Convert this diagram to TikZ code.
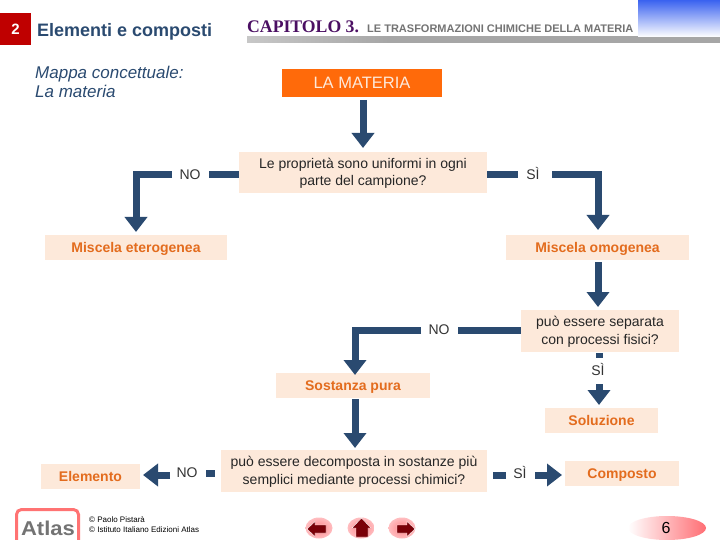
\documentclass[tikz,border=0pt]{standalone}
\usepackage{fontspec}
\setmainfont{Liberation Sans}
\newfontfamily\timesf{Liberation Serif}
\usetikzlibrary{arrows.meta,shadings,shapes.geometric}
\definecolor{navy}{HTML}{2A4A70}
\definecolor{peach}{HTML}{FDE9DA}
\definecolor{orangetxt}{HTML}{E36C1E}
\definecolor{matorange}{HTML}{FF6A0A}
\definecolor{maroon}{HTML}{7A0008}
\definecolor{pinkb}{HTML}{FF6E74}
\definecolor{capviolet}{HTML}{4B0F63}
\definecolor{barblue}{HTML}{3A62F0}
\definecolor{bargrey}{HTML}{A6A6A6}
\pgfdeclarehorizontalshading{barshade}{100bp}{color(0bp)=(white); color(40bp)=(bargrey); color(100bp)=(bargrey)}
\tikzset{
 x=1pt,y=-1pt,
 peachbox/.style={fill=peach,draw=none,inner sep=0pt,align=center,font=\fontsize{14}{17.5}\selectfont,text=black!85,text depth=1.6pt},
 term/.style={peachbox,font=\fontsize{14}{16}\bfseries\selectfont,text=orangetxt,text height=10pt,text depth=0pt},
 lab/.style={inner sep=0pt,font=\fontsize{14}{16}\selectfont,text=black!80,text height=9.5pt,text depth=0pt},
 link/.style={draw=navy,line width=7pt},
 flow/.style={link,-{Triangle[width=22pt,length=15pt]}},
 navbtn/.style={ellipse,minimum width=27pt,minimum height=21pt,inner sep=0pt,inner color=pinkb!85,outer color=pinkb!45},
 navshape/.style={fill=maroon,draw=white,line width=.4pt},
}
\begin{document}
\begin{tikzpicture}
\useasboundingbox (0,0) rectangle (720,540);
% header
\node[fill=red!75!black,text=white,minimum width=31pt,minimum height=32pt,inner sep=0pt,font=\fontsize{15}{15}\bfseries\selectfont] (num) at (15.5,29) {2};
\node[anchor=west,inner sep=0pt,text=navy,font=\fontsize{18}{18}\bfseries\selectfont,text height=12pt,text depth=0pt] (title) at (37,31) {Elementi e composti};
\shade[shading=barshade,draw=none] (247,37) rectangle (720,43);
\shade[top color=barblue,bottom color=white,draw=none] (638,0) rectangle (720,37);
\node[anchor=base west,inner sep=0pt,text=capviolet,font=\timesf\fontsize{17.7}{16}\bfseries\selectfont] (cap) at (247,33) {CAPITOLO 3.};
\node[anchor=base west,inner sep=0pt,text=black!55,font=\fontsize{11}{11}\bfseries\selectfont] (cap2) at (367,33) {LE TRASFORMAZIONI CHIMICHE DELLA MATERIA};
\node[anchor=north west,inner sep=0pt,align=left,text=navy,font=\fontsize{17}{19}\itshape\selectfont] (mappa) at (35,66) {Mappa concettuale:\\La materia};
% boxes
\node[fill=matorange,text=peach,inner sep=0pt,minimum width=160pt,minimum height=28pt,font=\fontsize{16.5}{16}\selectfont,text height=11pt,text depth=0pt] (mat) at (362,83) {LA MATERIA};
\node[peachbox,minimum width=248pt,minimum height=41pt] (q1) at (363,172.5) {Le proprietà sono uniformi in ogni\\parte del campione?};
\node[term,minimum width=182pt,minimum height=25pt] (het) at (136,247.5) {Miscela eterogenea};
\node[term,minimum width=183pt,minimum height=25pt] (omo) at (597.5,247.5) {Miscela omogenea};
\node[peachbox,minimum width=158pt,minimum height=42pt] (q2) at (600,331) {può essere separata\\con processi fisici?};
\node[term,minimum width=154pt,minimum height=25pt] (pura) at (353,385.5) {Sostanza pura};
\node[term,minimum width=113pt,minimum height=25pt] (sol) at (601.5,420.5) {Soluzione};
\node[peachbox,minimum width=266pt,minimum height=42pt] (q3) at (354,471) {può essere decomposta in sostanze più\\semplici mediante processi chimici?};
\node[term,minimum width=99pt,minimum height=25pt] (el) at (90.5,476.5) {Elemento};
\node[term,minimum width=114pt,minimum height=25pt] (comp) at (622,473.5) {Composto};
% labels
\node[lab] (no1) at (190,175) {NO};
\node[lab] (si1) at (533,175) {SÌ};
\node[lab] (no2) at (439,330) {NO};
\node[lab] (si2) at (598,371) {SÌ};
\node[lab] (no3) at (187,473) {NO};
\node[lab] (si3) at (520,474) {SÌ};
% free ends
\coordinate (a1s) at (363,100);
\coordinate (a1e) at (363,148);
\coordinate (n1e) at (209,175);
\coordinate (n1w) at (172,175);
\coordinate (h1) at (136,232);
\coordinate (s1w) at (518,175);
\coordinate (s1e) at (552,175);
\coordinate (o1) at (598,230);
\coordinate (o2s) at (598,262);
\coordinate (o2e) at (598,307);
\coordinate (n2e) at (458,330);
\coordinate (n2w) at (421,330);
\coordinate (p1) at (355,375);
\coordinate (p2s) at (355,399);
\coordinate (p2e) at (355,448);
\coordinate (d2s) at (599,353);
\coordinate (d2e) at (599,358);
\coordinate (s2s) at (599,384);
\coordinate (s2e) at (599,405);
\coordinate (d3s) at (206,473);
\coordinate (d3e) at (215,473);
\coordinate (e1s) at (170,475);
\coordinate (e1e) at (143,475);
\coordinate (d4s) at (493,475);
\coordinate (d4e) at (506,475);
\coordinate (c1s) at (535,475);
\coordinate (c1e) at (562,475);
% connectors
\draw[flow] (a1s) -- (a1e);
\draw[link] (q1.west |- n1e) -- (n1e);
\draw[flow] (n1w) -| (h1);
\draw[link] (q1.east |- s1w) -- (s1w);
\draw[flow] (s1e) -| (o1);
\draw[flow] (o2s) -- (o2e);
\draw[link] (q2.west |- n2e) -- (n2e);
\draw[flow] (n2w) -| (p1);
\draw[flow] (p2s) -- (p2e);
\draw[link] (d2s) -- (d2e);
\draw[flow] (s2s) -- (s2e);
\draw[link] (d3s) -- (d3e);
\draw[flow] (e1s) -- (e1e);
\draw[link] (d4s) -- (d4e);
\draw[flow] (c1s) -- (c1e);
% footer
\draw[draw=red!55!white,line width=3pt,rounded corners=5pt] (16.5,541) -- (16.5,509.5) -- (78.5,509.5) -- (78.5,541);
\node[inner sep=0pt,text=black!55,font=\fontsize{20}{20}\bfseries\selectfont,anchor=base,text depth=0pt,xscale=1.1] (logo) at (48,535) {Atlas};
\node[anchor=west,inner sep=0pt,font=\fontsize{8}{8}\selectfont] (cr1) at (89,520) {© Paolo Pistarà};
\node[anchor=west,inner sep=0pt,font=\fontsize{8}{8}\selectfont] (cr2) at (89,530) {© Istituto Italiano Edizioni Atlas};
\node[navbtn] (bl) at (319,528) {};
\node[navbtn] (bh) at (361,528) {};
\node[navbtn] (br) at (402,528) {};
\fill[navshape] (307,529) -- (315,521.5) -- (315,525) -- (326,525) -- (326,533) -- (315,533) -- (315,536.5) -- cycle;
\fill[navshape] (361.5,518) -- (371,528) -- (368,528) -- (368,537) -- (356,537) -- (356,528) -- (352,528) -- cycle;
\fill[navshape] (415,529) -- (407,521.5) -- (407,525) -- (397,525) -- (397,533) -- (407,533) -- (407,536.5) -- cycle;
\shade[left color=white,right color=pinkb,draw=none] (667,528) ellipse [x radius=39,y radius=12];
\node[inner sep=0pt,font=\fontsize{16}{16}\selectfont] (pg) at (666,528) {6};
\end{tikzpicture}
\end{document}
